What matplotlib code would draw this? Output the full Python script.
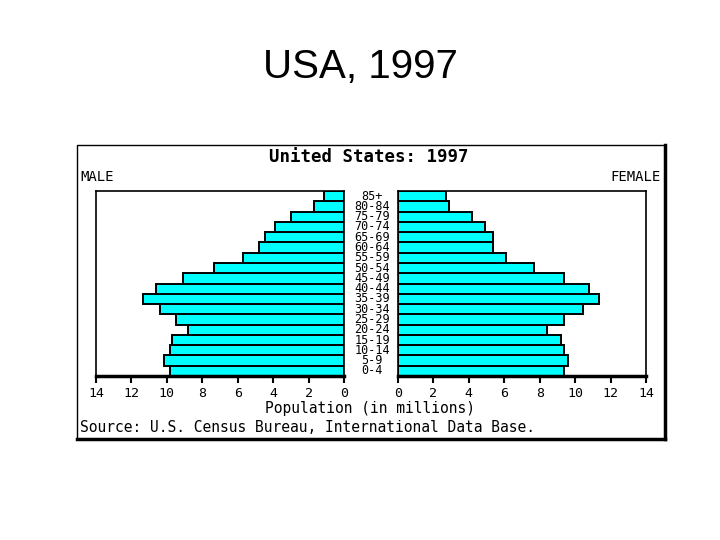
"""
USA population pyramid, 1997 (U.S. Census Bureau IDB)
"""
# libraries
import numpy as np
import matplotlib.pyplot as plt
from matplotlib.patches import Rectangle
from matplotlib.lines import Line2D

# data (millions), youngest first
age_groups = ["0-4", "5-9", "10-14", "15-19", "20-24", "25-29", "30-34", "35-39",
              "40-44", "45-49", "50-54", "55-59", "60-64", "65-69", "70-74",
              "75-79", "80-84", "85+"]
male = [9.84, 10.16, 9.82, 9.72, 8.82, 9.50, 10.40, 11.35,
        10.59, 9.08, 7.33, 5.71, 4.81, 4.47, 3.90, 2.98, 1.70, 1.13]
female = [9.36, 9.61, 9.36, 9.19, 8.42, 9.36, 10.46, 11.37,
          10.78, 9.36, 7.68, 6.09, 5.34, 5.34, 4.90, 4.16, 2.89, 2.71]
x_ticks = [0, 2, 4, 6, 8, 10, 12, 14]

mono = "DejaVu Sans Mono"
bar_color = "#00ffff"

fig = plt.figure(figsize=(7.2, 5.4), dpi=100)
fig.patch.set_facecolor("white")

# slide title
fig.text(0.5, 0.876, "USA, 1997", ha="center", va="center",
         fontsize=29, family="Liberation Sans")

# panel box with a heavier right/bottom edge (drawn behind the axes)
px0, py0, pw, ph = 77 / 720, 1 - 439 / 540, 588 / 720, 294 / 540
fig.patches.append(Rectangle((px0, py0), pw, ph, transform=fig.transFigure,
                             facecolor="white", edgecolor="black", lw=1.0, zorder=-5))
fig.lines.append(Line2D([px0 + pw, px0 + pw], [py0, py0 + ph], transform=fig.transFigure,
                        color="black", lw=2.5, zorder=-4))
fig.lines.append(Line2D([px0, px0 + pw], [py0, py0], transform=fig.transFigure,
                        color="black", lw=2.5, zorder=-4))

# axes
ax_m = fig.add_axes([96 / 720, 1 - 376 / 540, 248 / 720, 185 / 540])
ax_f = fig.add_axes([398 / 720, 1 - 376 / 540, 248 / 720, 185 / 540])
y = np.arange(len(age_groups))

for ax, vals in [(ax_m, male), (ax_f, female)]:
    ax.patch.set_alpha(0)
    ax.barh(y, vals, height=1.0, color=bar_color, edgecolor="black", linewidth=1.4)
    ax.set_ylim(-0.5, len(age_groups) - 0.5)
    ax.set_yticks([])
    ax.set_xticks(x_ticks)
    ax.set_xticklabels([str(t) for t in x_ticks], family=mono, fontsize=9.5)
    ax.tick_params(axis="x", direction="out", length=5, width=1.5, pad=3)
    for side in ["top", "left", "right"]:
        ax.spines[side].set_linewidth(1.2)
    ax.spines["bottom"].set_linewidth(2.5)

ax_m.set_xlim(14, 0)
ax_f.set_xlim(0, 14)

# age labels in the gap between the halves
for yi, lab in zip(y, age_groups):
    ax_m.annotate(lab, xy=(1 + 28 / 248, yi), xycoords=("axes fraction", "data"),
                  ha="center", va="center", family=mono, fontsize=8.5,
                  annotation_clip=False)

# panel texts
fig.text(369 / 720, 1 - 157 / 540, "United States: 1997", ha="center", va="center",
         family=mono, fontweight="bold", fontsize=12.5)
fig.text(80 / 720, 1 - 177 / 540, "MALE", ha="left", va="center", family=mono, fontsize=10)
fig.text(661 / 720, 1 - 177 / 540, "FEMALE", ha="right", va="center", family=mono, fontsize=10)
fig.text(370 / 720, 1 - 409 / 540, "Population (in millions)", ha="center", va="center",
         family=mono, fontsize=10.5)
fig.text(80 / 720, 1 - 428 / 540, "Source: U.S. Census Bureau, International Data Base.",
         ha="left", va="center", family=mono, fontsize=10.5)

fig.savefig("out.png", dpi=100)
